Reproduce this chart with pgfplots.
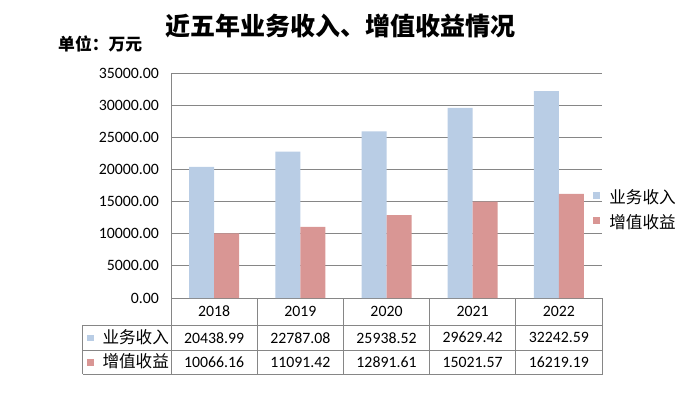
\documentclass[border=0pt]{standalone}
\usepackage{pgfplots}
\pgfplotsset{compat=1.18}
\usepackage{fontspec}
\setmainfont{Carlito}
\newfontfamily\cjk{Noto Sans CJK SC}
\definecolor{cblue}{HTML}{B9CDE5}
\definecolor{cpink}{HTML}{D99694}
\definecolor{cgrid}{HTML}{868686}
\begin{document}
\begin{tikzpicture}
\path[use as bounding box] (0pt,0pt) rectangle (692pt,394pt);
\begin{axis}[
  at={(171pt,96pt)}, anchor=south west,
  width=431pt, height=224.7pt, scale only axis,
  xmin=-0.5, xmax=4.5, ymin=0, ymax=35000,
  ybar=0pt, bar width=25pt,
  axis x line=bottom, axis y line=left,
  axis line style={-, draw=cgrid, line width=1pt},
  xtick={0,1,2,3,4}, xticklabels={2018,2019,2020,2021,2022},
  major tick length=0pt,
  ytick={0,5000,...,35000},
  ymajorgrids, grid style={cgrid, line width=1pt},
  scaled y ticks=false,
  yticklabel style={anchor=east, inner sep=0pt, xshift=-12pt, font=\fontsize{15.8}{18}\selectfont,
    /pgf/number format/.cd, fixed, fixed zerofill, precision=2, 1000 sep={}, assume math mode=true},
  xticklabel style={anchor=center, inner sep=0pt, yshift=-13.5pt, font=\fontsize{15.8}{18}\selectfont},
  legend style={at={(0.979,0.385)}, anchor=west, draw=none, fill=none, inner sep=0pt,
    row sep=10pt, column sep=9pt,
    nodes={inner sep=0pt, text height=12pt, text depth=3pt, font=\cjk\fontsize{16.6}{18}\selectfont}},
  legend image code/.code={\fill[#1] (0pt,-0.5pt) rectangle (7.2pt,6.7pt);},
  legend cell align=left,
]
\addplot[fill=cblue, draw=none] coordinates {(0,20438.99) (1,22787.08) (2,25938.52) (3,29629.42) (4,32242.59)};
\addplot[fill=cpink, draw=none] coordinates {(0,10066.16) (1,11091.42) (2,12891.61) (3,15021.57) (4,16219.19)};
\legend{业务收入, 增值收益}
\end{axis}
\begin{scope}[x=1pt, y=1pt]
  \draw[cgrid, line width=1pt] (82.5,68.7) -- (602.5,68.7) (82.5,44) -- (602.5,44) (82.5,20) -- (602.5,20);
  \draw[cgrid, line width=1pt] (82.5,68.7) -- (82.5,20);
  \foreach \x in {171,257.2,343.4,429.6,515.8,602.5} \draw[cgrid, line width=1pt] (\x,96) -- (\x,20);
  \fill[cblue] (87.3,52.6) rectangle (93.7,59);
  \fill[cpink] (87.3,28.3) rectangle (93.7,34.7);
  \node[anchor=west, inner sep=0pt, font=\cjk\fontsize{16.6}{18}\selectfont] at (102.3,57) {业务收入};
  \node[anchor=west, inner sep=0pt, font=\cjk\fontsize{16.6}{18}\selectfont] at (102.3,32.7) {增值收益};
  \foreach \x/\a/\b in {214.1/20438.99/10066.16, 300.3/22787.08/11091.42, 386.5/25938.52/12891.61, 472.7/29629.42/15021.57, 558.9/32242.59/16219.19} {
    \node[inner sep=0pt, font=\fontsize{15.8}{18}\selectfont] at (\x,56.3) {\a};
    \node[inner sep=0pt, font=\fontsize{15.8}{18}\selectfont] at (\x,32) {\b};
  }
  \node[inner sep=0pt, font=\cjk\bfseries\fontsize{25}{30}\selectfont] at (340.5,368) {近五年业务收入、增值收益情况};
  \node[anchor=west, inner sep=0pt, font=\cjk\bfseries\fontsize{16.8}{20}\selectfont] at (58,350) {单位：万元};
\end{scope}
\end{tikzpicture}
\end{document}
